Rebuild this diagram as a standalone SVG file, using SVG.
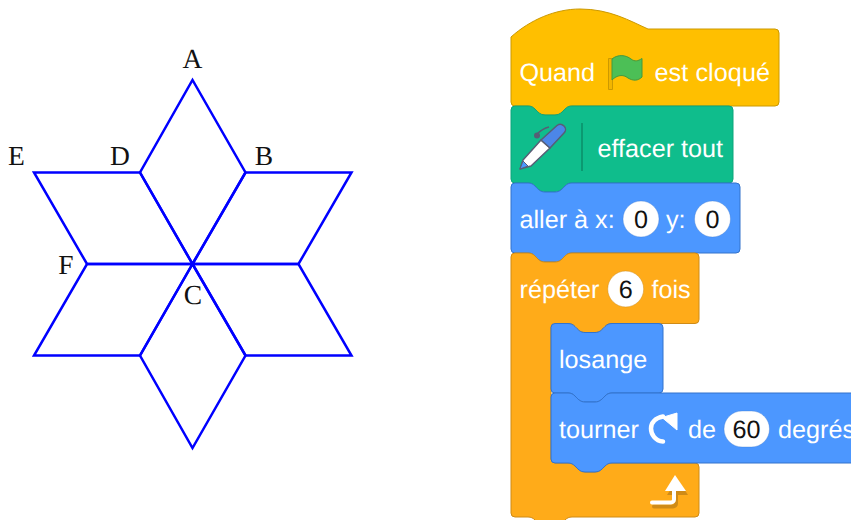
<svg xmlns="http://www.w3.org/2000/svg" width="851" height="520" viewBox="0 0 851 520">
<style>
.star{fill:none;stroke:#0000ff;stroke-width:2.5;stroke-linejoin:miter}
.lbl{font-family:"Liberation Serif","Times New Roman",serif;font-size:27.5px;fill:#111;text-anchor:middle;text-rendering:geometricPrecision}
.t{font-family:"Liberation Sans",Arial,sans-serif;font-size:25.2px;fill:#fff;text-rendering:geometricPrecision}
.n{font-family:"Liberation Sans",Arial,sans-serif;font-size:25.2px;fill:#111;text-anchor:middle;text-rendering:geometricPrecision}
.inp{fill:#fff;stroke:#3373cc;stroke-opacity:.35;stroke-width:1}
.inpo{fill:#fff;stroke:#cf8b17;stroke-opacity:.5;stroke-width:1}
.hat{fill:#ffbf00;stroke:#cc9900;stroke-width:1}
.pen{fill:#0fbd8c;stroke:#0da57a;stroke-width:1}
.mot{fill:#4c97ff;stroke:#3373cc;stroke-width:1}
.ctl{fill:#ffab19;stroke:#cf8b17;stroke-width:1}
</style>
<g id="star">
<path class="star" d="M192.500 264L140 172.500L192.500 80L245.500 172.500Z"/>
<path class="star" d="M192.500 264L245.500 172.500H351.500L298.500 264Z"/>
<path class="star" d="M192.500 264H298.500L351.500 355.500H245.500Z"/>
<path class="star" d="M192.500 264L245.500 355.500L192.500 448L140 355.500Z"/>
<path class="star" d="M192.500 264L140 355.500H34L87 264Z"/>
<path class="star" d="M192.500 264H87L34 172.500H140Z"/>
</g>
<g id="labels">
<text class="lbl" x="192.500" y="68">A</text>
<text class="lbl" x="264" y="165">B</text>
<text class="lbl" x="193" y="304">C</text>
<text class="lbl" x="120" y="165">D</text>
<text class="lbl" x="16.500" y="165">E</text>
<text class="lbl" x="66" y="274">F</text>
</g>
<g id="block-hat">
<path class="hat" d="M511 37C530 20 555 9 580 9C610 9 630 21 648 29H775a4 4 0 0 1 4 4V102a4 4 0 0 1 -4 4H572c-3 0 -5 1 -7 3c-3 3 -5 6 -10 6h-10c-5 0 -7 -3 -10 -6c-2 -2 -4 -3 -7 -3H515a4 4 0 0 1 -4 -4Z"/>
<text class="t" x="519.500" y="81">Quand</text>
<path d="M608.500 58.500H612.500V89.500H608.500Z" fill="#f2b500" stroke="#cc9900" stroke-width="1"/>
<path d="M612 59C618 54 626 55 631 59C635 62 638 61 642 58.500V77C638 81 633 81 628 78C623 74 617 75 612 80Z" fill="#4cbf56" stroke="#45993d" stroke-width="1"/>
<text class="t" x="654.500" y="81" textLength="115.500">est cloqué</text>
</g>
<g id="block-pen">
<path class="pen" d="M515 106H528c3 0 5 1 7 3c3 3 5 6 10 6h10c5 0 7 -3 10 -6c2 -2 4 -3 7 -3H729a4 4 0 0 1 4 4V179a4 4 0 0 1 -4 4H572c-3 0 -5 1 -7 3c-3 3 -5 6 -10 6h-10c-5 0 -7 -3 -10 -6c-2 -2 -4 -3 -7 -3H515a4 4 0 0 1 -4 -4V110a4 4 0 0 1 4 -4Z"/>
<path d="M537 134C541 130 545 128 549 127" fill="none" stroke="#575e75" stroke-width="1.500"/>
<circle cx="537" cy="135.500" r="3" fill="#575e75"/>
<path d="M520 169L523 160L541 140L550 148L531 166Z" fill="#fff" stroke="#575e75" stroke-width="1.500" stroke-linejoin="round"/>
<path d="M520 169L523 161L528 166Z" fill="#4c97ff" stroke="#575e75" stroke-width="1"/>
<path d="M541 140L557 125.500C559 124 562 124 564 126C566 128 566 131 564 133L550 148Z" fill="#4c86e8" stroke="#575e75" stroke-width="1.500" stroke-linejoin="round"/>
<path d="M582 123V171" stroke="#0b8e69" stroke-width="1.500" fill="none"/>
<text class="t" x="597.500" y="157">effacer tout</text>
</g>
<g id="block-goto">
<path class="mot" d="M515 183H528c3 0 5 1 7 3c3 3 5 6 10 6h10c5 0 7 -3 10 -6c2 -2 4 -3 7 -3H736a4 4 0 0 1 4 4V249a4 4 0 0 1 -4 4H572c-3 0 -5 1 -7 3c-3 3 -5 6 -10 6h-10c-5 0 -7 -3 -10 -6c-2 -2 -4 -3 -7 -3H515a4 4 0 0 1 -4 -4V187a4 4 0 0 1 4 -4Z"/>
<text class="t" x="519.500" y="228">aller à x:</text>
<circle class="inp" cx="641" cy="219" r="18"/>
<text class="n" x="641" y="228">0</text>
<text class="t" x="666" y="228">y:</text>
<circle class="inp" cx="712.500" cy="219" r="18"/>
<text class="n" x="712.500" y="228">0</text>
</g>
<g id="block-repeat">
<path class="ctl" d="M515 253H528c3 0 5 1 7 3c3 3 5 6 10 6h10c5 0 7 -3 10 -6c2 -2 4 -3 7 -3H695a4 4 0 0 1 4 4V319.500a4 4 0 0 1 -4 4H612c-3 0 -5 1 -7 3c-3 3 -5 6 -10 6h-10c-5 0 -7 -3 -10 -6c-2 -2 -4 -3 -7 -3H555a4 4 0 0 0 -4 4V459a4 4 0 0 0 4 4H568c3 0 5 1 7 3c3 3 5 6 10 6h10c5 0 7 -3 10 -6c2 -2 4 -3 7 -3H695a4 4 0 0 1 4 4V513a4 4 0 0 1 -4 4H572c-3 0 -5 1 -7 3c-3 3 -5 6 -10 6h-10c-5 0 -7 -3 -10 -6c-2 -2 -4 -3 -7 -3H515a4 4 0 0 1 -4 -4V257a4 4 0 0 1 4 -4Z"/>
<text class="t" x="519.500" y="298">répéter</text>
<circle class="inpo" cx="625.700" cy="289" r="18"/>
<text class="n" x="625.700" y="298">6</text>
<text class="t" x="651.500" y="298">fois</text>
<path d="M654 506.500H673a3 3 0 0 0 3 -3V495" fill="none" stroke="#cf8b17" stroke-width="4" stroke-linecap="round"/>
<path d="M666 495L676.500 479L687 495Z" fill="#cf8b17" transform="translate(1 0)"/>
<path d="M652 502.500H671a3 3 0 0 0 3 -3V491" fill="none" stroke="#fff" stroke-width="4" stroke-linecap="round"/>
<path d="M665 491L675 475L686 491Z" fill="#fff"/>
</g>
<g id="block-losange">
<path class="mot" d="M555 323.500H568c3 0 5 1 7 3c3 3 5 6 10 6h10c5 0 7 -3 10 -6c2 -2 4 -3 7 -3H659a4 4 0 0 1 4 4V389a4 4 0 0 1 -4 4H612c-3 0 -5 1 -7 3c-3 3 -5 6 -10 6h-10c-5 0 -7 -3 -10 -6c-2 -2 -4 -3 -7 -3H555a4 4 0 0 1 -4 -4V327.500a4 4 0 0 1 4 -4Z"/>
<text class="t" x="559" y="368">losange</text>
</g>
<g id="block-turn">
<path class="mot" d="M555 393H568c3 0 5 1 7 3c3 3 5 6 10 6h10c5 0 7 -3 10 -6c2 -2 4 -3 7 -3H860V463H612c-3 0 -5 1 -7 3c-3 3 -5 6 -10 6h-10c-5 0 -7 -3 -10 -6c-2 -2 -4 -3 -7 -3H555a4 4 0 0 1 -4 -4V397a4 4 0 0 1 4 -4Z"/>
<text class="t" x="559" y="438">tourner</text>
<path d="M663 441.500C655 441 651 434 651 428.500C651 423 655 418 663 416.500" fill="none" stroke="#fff" stroke-width="4.500" stroke-linecap="round"/>
<path d="M662 417.500L677 413V430Z" fill="#fff" stroke="#fff" stroke-width="1" stroke-linejoin="round"/>
<text class="t" x="688" y="438">de</text>
<rect class="inp" x="724" y="411" width="45.500" height="36" rx="18"/>
<text class="n" x="746.500" y="438">60</text>
<text class="t" x="778" y="438">degrés</text>
</g>
</svg>
